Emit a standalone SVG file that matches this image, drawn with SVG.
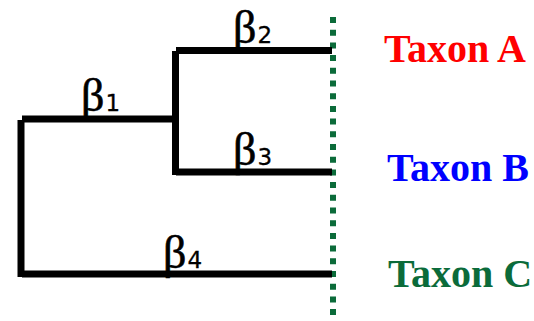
<svg xmlns="http://www.w3.org/2000/svg" width="534" height="321" viewBox="0 0 534 321">
  <style>
    .branch { fill: none; stroke: #000; stroke-width: 7; stroke-linecap: butt; }
    .tips { fill: none; stroke: #0b6b3a; stroke-width: 6; stroke-dasharray: 6 6.7; }
    .beta { font-family: "Liberation Serif", "Times New Roman", serif; font-size: 46px; fill: #000; stroke: #000; stroke-width: 0.6; }
    .sub { font-family: "DejaVu Sans", sans-serif; font-size: 23px; stroke-width: 0.3; }
    .taxon { font-family: "Liberation Serif", "Times New Roman", serif; font-weight: bold; font-size: 40px; }
  </style>
  <rect width="534" height="321" fill="#fff"/>

  <!-- tip alignment line -->
  <line class="tips" x1="333" y1="17" x2="333" y2="321"/>

  <!-- tree branches -->
  <g id="connectors">
    <line class="branch" x1="22" y1="119" x2="179" y2="119"/>
    <line class="branch" x1="21" y1="120" x2="21" y2="277"/>
    <line class="branch" x1="22" y1="274" x2="332" y2="274"/>
    <line class="branch" x1="176" y1="50.5" x2="332" y2="50.5"/>
    <line class="branch" x1="175.5" y1="51" x2="175.5" y2="175"/>
    <line class="branch" x1="176" y1="172" x2="332" y2="172"/>
  </g>

  <!-- branch labels -->
  <g id="label-b1"><text class="beta" x="81" y="111">β<tspan class="sub" dx="1">1</tspan></text></g>
  <g id="label-b2"><text class="beta" x="233" y="42.5">β<tspan class="sub" dx="1">2</tspan></text></g>
  <g id="label-b3"><text class="beta" x="233" y="164.5">β<tspan class="sub" dx="1">3</tspan></text></g>
  <g id="label-b4"><text class="beta" x="163" y="267.5">β<tspan class="sub" dx="1">4</tspan></text></g>

  <!-- taxa -->
  <g id="taxon-a"><text class="taxon" x="384" y="62" fill="#ff0000">Taxon A</text></g>
  <g id="taxon-b"><text class="taxon" x="387" y="181" fill="#0000ff">Taxon B</text></g>
  <g id="taxon-c"><text class="taxon" x="388" y="287" fill="#0b6b3a">Taxon C</text></g>
</svg>
